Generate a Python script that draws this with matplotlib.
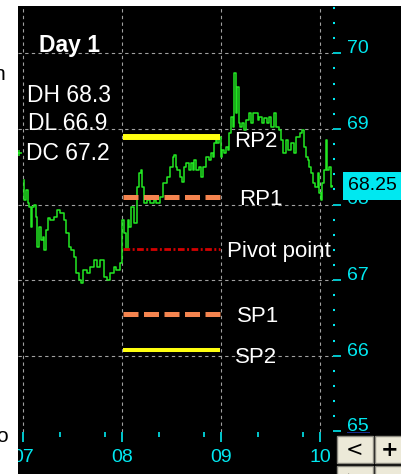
import matplotlib
matplotlib.use("Agg")
import matplotlib.pyplot as plt
from matplotlib.patches import Rectangle
from matplotlib.transforms import blended_transform_factory
from matplotlib.ticker import FixedLocator, FixedFormatter, MultipleLocator

# ---------------- data ----------------
# hours since day "07" 00:00
time_h = [0.2, 0.5, 1.0, 1.2, 1.7, 2.2, 2.4, 2.9, 3.4, 3.6, 4.1, 4.6, 4.9, 5.3, 5.8, 6.1,
          7.0, 7.8, 8.5, 9.5, 10.2, 10.7, 11.4, 12.1, 12.6, 13.3, 13.8, 14.3, 15.0, 15.8,
          16.7, 17.5, 18.2, 19.2, 19.9, 20.6, 21.6, 22.3, 23.0, 24.0,
          24.2, 24.7, 25.2, 25.5, 25.9, 26.7, 27.2, 27.9, 28.4, 28.8, 29.1, 29.6, 30.3,
          31.3, 32.0, 32.7, 33.7, 34.4, 35.2, 36.1, 36.4, 36.8, 37.3, 37.6, 38.5, 38.8,
          39.3, 39.8, 40.5, 41.0, 41.2, 41.7, 42.2, 42.9, 43.4, 44.1, 44.8, 45.3, 45.8,
          46.1, 46.5, 47.0, 47.3, 47.8, 48.2, 48.5, 49.0, 49.5, 49.7, 50.2, 50.7, 50.9,
          51.4, 51.9, 52.1, 52.4, 52.8, 53.3, 53.8, 54.5, 55.0, 55.5, 55.8, 56.7, 57.0,
          57.5, 58.2, 58.7, 59.4, 59.9, 60.4, 61.1, 61.6, 62.3, 62.8, 63.5, 64.0, 64.7,
          65.4, 65.9, 66.7, 67.6, 67.9, 68.4, 68.9, 69.1, 69.6, 70.1, 70.3, 71.3, 71.5,
          72.0, 72.5, 72.7, 73.2, 73.7, 73.9, 74.4, 74.9, 75.1]
price = [68.32, 68.06, 68.19, 68.02, 67.97, 67.70, 67.97, 67.99, 67.84, 67.44, 67.70, 67.53,
         67.57, 67.40, 67.66, 67.82, 67.80, 67.84, 67.93, 67.89, 67.80, 67.62, 67.44, 67.40,
         67.31, 67.09, 67.00, 66.96, 67.13, 67.09, 67.17, 67.27, 67.17, 67.27, 67.04, 67.00,
         67.09, 67.17, 67.13, 67.23,
         67.80, 67.62, 67.40, 67.80, 67.70, 67.97, 67.76, 68.23, 68.42, 68.46, 68.23, 68.02,
         68.06, 68.02, 68.06, 68.02, 68.10, 68.28, 68.36, 68.50, 68.63, 68.65, 68.50, 68.46,
         68.36, 68.30, 68.50, 68.55, 68.46, 68.55, 68.46, 68.59, 68.46, 68.50, 68.36, 68.50,
         68.63, 68.59, 68.68, 68.63, 68.81, 68.85, 68.81, 68.89, 68.63, 68.72, 68.68, 68.76,
         68.72, 68.95, 69.16, 69.03, 69.74, 69.21, 69.55, 69.08, 69.03, 69.08, 68.99, 69.12,
         69.21, 69.08, 69.21, 69.21, 69.12, 69.16, 69.08, 69.14, 69.08, 69.16, 69.03, 69.21,
         69.03, 68.99, 68.85, 68.68, 68.85, 68.72, 68.81, 68.68, 68.89, 68.95, 68.99, 68.76,
         68.63, 68.59, 68.50, 68.42, 68.28, 68.23, 68.42, 68.15, 68.06, 68.28, 68.46, 68.85,
         68.46, 68.50, 68.23, 68.25]
prev_time_h = -1.0
prev_price = 68.68
last_price = 68.25

level_names = ["RP2", "RP1", "Pivot point", "SP1", "SP2"]
level_values = [68.89, 68.10, 67.41, 66.55, 66.07]
level_start_h = 24
level_end_h = 48

day_ticks_h = [0, 24, 48, 72]
day_labels = ["07", "08", "09", "10"]
minor_ticks_h = [9, 20, 33, 44, 57, 68]
y_ticks = [65, 66, 67, 68, 69, 70]

title_text = "Day 1"
day_high = 68.3
day_low = 66.9
day_close = 67.2

# ---------------- style ----------------
W, H = 401, 474
CYAN = "#00e8f0"
FONT = "Liberation Sans"

fig = plt.figure(figsize=(W / 100, H / 100), dpi=100, facecolor="black")

def fx(px):
    return px / W

def fy(py):
    return 1 - py / H

ax_left, ax_right, ax_top, ax_bot = 18, 333, 6, 432
ax = fig.add_axes([fx(ax_left), fy(ax_bot), fx(ax_right - ax_left), (ax_bot - ax_top) / H])
ax.set_facecolor("black")
for s in ax.spines.values():
    s.set_visible(False)

hp = 24 / 99.0
ax.set_xlim((ax_left - 23) * hp, (ax_right - 23) * hp)
ax.set_ylim(70 - (ax_bot - 53.3) / 75.6, 70 + (53.3 - ax_top) / 75.6)

# grid
for v in y_ticks[1:]:
    ax.axhline(v, color="#a0a0a0", lw=0.8, ls=(0, (3, 3)), zorder=1)
for d in day_ticks_h:
    ax.axvline(d, color="#a0a0a0", lw=0.8, ls=(0, (3, 3)), zorder=1)

# price
ax.plot(time_h, price, color="#22e822", lw=1.1, drawstyle="steps-mid", zorder=3)
ax.plot([prev_time_h], [prev_price], marker="+", color="#22e822", ms=5, mew=1.1, zorder=3)

# levels
level_styles = [
    dict(color="#ffff10", lw=4.3, ls="-", solid_capstyle="butt"),
    dict(color="#f4844f", lw=3.6, ls=(0, (3, 1.1))),
    dict(color="#d40000", lw=2.0, ls=(0, (2.4, 0.9, 0.7, 0.9))),
    dict(color="#f4844f", lw=3.6, ls=(0, (3, 1.1))),
    dict(color="#ffff10", lw=2.9, ls="-", solid_capstyle="butt"),
]
label_x = [51.2, 52.4, 49.5, 51.9, 51.4]
label_dy = [-3, -2, -2, -2, -5]  # points
for name, val, st, lx, dy in zip(level_names, level_values, level_styles, label_x, label_dy):
    ax.plot([level_start_h + 0.3, level_end_h - 0.2], [val, val], zorder=4, **st)
    ax.annotate(name, xy=(lx, val), xytext=(0, dy), textcoords="offset points",
                color="white", fontsize=16, family=FONT, va="center", ha="left", zorder=6)

# axes ticks
ax.yaxis.tick_right()
ax.yaxis.set_major_locator(FixedLocator(y_ticks))
ax.yaxis.set_minor_locator(MultipleLocator(0.2))
ax.tick_params(axis="y", which="major", colors=CYAN, length=6, width=1.2, pad=4,
               labelsize=14, direction="out")
ax.tick_params(axis="y", which="minor", colors=CYAN, length=1.5, width=1.5, direction="out")
for lab in ax.get_yticklabels():
    lab.set_va("baseline")
    lab.set_family(FONT)

ax.xaxis.set_major_locator(FixedLocator(day_ticks_h))
ax.xaxis.set_major_formatter(FixedFormatter(day_labels))
ax.xaxis.set_minor_locator(FixedLocator(minor_ticks_h))
ax.tick_params(axis="x", which="major", colors=CYAN, length=7.5, width=1.2, pad=5,
               labelsize=14, direction="out")
ax.tick_params(axis="x", which="minor", colors=CYAN, length=3.5, width=1.2, direction="out")
for lab in ax.get_xticklabels():
    lab.set_family(FONT)

# last price box
tr = blended_transform_factory(fig.transFigure, ax.transData)
ax.text(fx(348), last_price, f"{last_price:.2f}", transform=tr, color="black",
        fontsize=14, family=FONT, va="center", ha="left", zorder=8, clip_on=False,
        bbox=dict(boxstyle="square,pad=0.28", fc=CYAN, ec="none"))

# info texts
fig.text(fx(39), fy(45), title_text, color="white", fontsize=16.5, fontweight="bold",
         family=FONT, va="center", ha="left")
for txt, yy, xx in [(f"DH {day_high:.1f}", 95, 27), (f"DL {day_low:.1f}", 124, 28),
                    (f"DC {day_close:.1f}", 153, 26)]:
    fig.text(fx(xx), fy(yy), txt, color="white", fontsize=16.5, family=FONT,
             va="center", ha="left")

# white screenshot borders
fig.patches.append(Rectangle((0, 0), fx(18), 1, transform=fig.transFigure,
                             fc="white", ec="none", zorder=20))
fig.patches.append(Rectangle((0, fy(6)), 1, 6 / H, transform=fig.transFigure,
                             fc="white", ec="none", zorder=20))
fig.text(fx(5), fy(75), "n", color="black", fontsize=15, family=FONT, ha="right",
         va="center", zorder=21)
fig.text(fx(8), fy(437), "o", color="black", fontsize=15, family=FONT, ha="right",
         va="center", zorder=21)

# area under 65 label / buttons
fig.patches.append(Rectangle((fx(340), fy(474)), fx(61), 42 / H, transform=fig.transFigure,
                             fc="black", ec="none", zorder=20))
fig.patches.append(Rectangle((fx(347), fy(433)), fx(23), 1.2 / H, transform=fig.transFigure,
                             fc="#1a2a8a", ec="none", zorder=21))
buttons = [(337, 436, 36, 27, "<"), (375, 436, 30, 27, "+"),
           (337, 466, 36, 12, ">"), (375, 466, 30, 12, "")]
for bx, by, bw, bh, bt in buttons:
    fig.patches.append(Rectangle((fx(bx), fy(by + bh)), fx(bw), bh / H,
                                 transform=fig.transFigure, fc="#ece9d8", ec="#8c8a80",
                                 lw=1.0, zorder=22))
    if bt:
        fig.text(fx(bx + bw / 2), fy(by + min(bh, 27) / 2 + (0 if bh > 20 else 8)), bt,
                 color="black", fontsize=15, family="DejaVu Sans", ha="center",
                 va="center", zorder=23, fontweight="bold" if bt == "+" else "normal")

fig.savefig("out.png", dpi=100, facecolor=fig.get_facecolor())
